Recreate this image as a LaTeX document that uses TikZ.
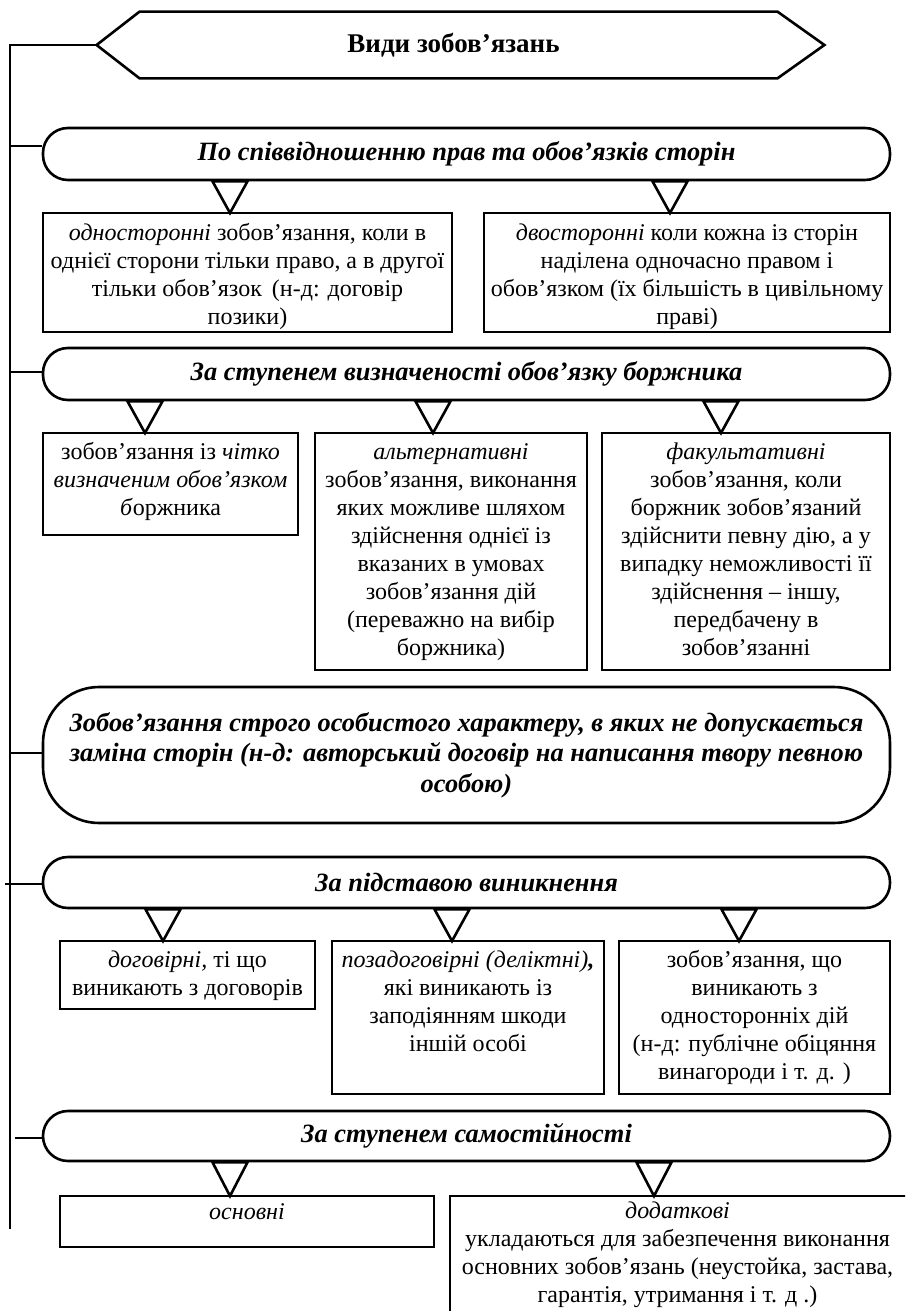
\documentclass[tikz,border=0pt]{standalone}
\usepackage{fontspec}
\setmainfont{Liberation Serif}
\usetikzlibrary{fit,calc}
\newcommand\bodyf{\fontsize{12}{14}\selectfont}
\newcommand\headf{\fontsize{13.2}{15.25}\selectfont\bfseries\itshape}
\newcommand\titlef{\fontsize{13.5}{15}\selectfont\bfseries}
\begin{document}
\begin{tikzpicture}[x=0.5pt,y=-0.5pt,
  ln/.style={line width=1.3pt},
  rbox/.style={draw, ln, rounded corners=12.5pt, inner sep=0pt, font=\headf, align=center, fill=white, minimum width=423.5pt},
  sqbox/.style={draw, ln, inner sep=0pt, fill=white},
  txt/.style={inner sep=0pt, anchor=north, align=center, font=\bodyf},
  tri/.style={draw, ln, fill=white, line join=miter}]
\path[use as bounding box] (0,0) rectangle (905,1311);
\clip (0,0) rectangle (905,1311);
\fill[white] (0,0) rectangle (905,1311);

% title hexagon
\node[inner sep=0pt, font=\titlef, minimum width=363.5pt, minimum height=33pt] (title) at (460.5,45) {\hspace*{-7pt}Види зобов’язань};
\draw[ln, line join=miter] (title.west) -- ($(title.north west)+(43,0)$) -- ($(title.north east)+(-47,0)$) -- (title.east) -- ($(title.south east)+(-47,0)$) -- ($(title.south west)+(43,0)$) -- cycle;

% main spine
\coordinate (m0) at (10,45);
\coordinate (mend) at (10,1229);
\draw[ln] (title.west) -- (m0) -- (mend);
\coordinate (m1) at (10,146);
\coordinate (m2) at (10,372);
\coordinate (m3) at (10,753);
\coordinate (m4) at (5,884);
\coordinate (m5) at (15,1138);

% category boxes
\node[rbox, minimum height=26pt] (r1) at (466.5,154) {По співвідношенню прав та обов’язків сторін};
\node[rbox, minimum height=26pt] (r2) at (466.5,374) {За ступенем визначеності обов’язку боржника};
\node[rbox, rounded corners=28pt, minimum height=68pt] (r3) at (466.5,755) {Зобов’язання строго особистого характеру, в яких не допускається\\заміна сторін (н-д: авторський договір на написання твору певною\\особою)};
\node[rbox, minimum height=25.5pt] (r4) at (466.5,882.5) {За підставою виникнення};
\node[rbox, minimum height=25pt] (r5) at (466.5,1136) {За ступенем самостійності};

\foreach \m/\r in {m1/r1, m2/r2, m3/r3, m4/r4, m5/r5}
  \draw[ln] (\m) -- (\m -| \r.west);

% leaf boxes
\node[sqbox, fit={(43,213)(452,332)}] (b1a) {};
\node[sqbox, fit={(484,213)(890,332)}] (b1b) {};
\node[sqbox, fit={(43,433)(298,535)}] (b2a) {};
\node[sqbox, fit={(315,433)(587,670)}] (b2b) {};
\node[sqbox, fit={(602,433)(890,670)}] (b2c) {};
\node[sqbox, fit={(60,941)(315,1009)}] (b4a) {};
\node[sqbox, fit={(332,941)(604,1094)}] (b4b) {};
\node[sqbox, fit={(619,941)(890,1094)}] (b4c) {};
\node[sqbox, fit={(60,1196)(434,1247)}] (b5a) {};
\node[sqbox, fit={(450,1196)(915,1340)}] (b5b) {};

\node[txt] (t1a) at ($(b1a.north)+(0,9)$) {\strut\textit{односторонні} зобов’язання, коли в\\однієї сторони тільки право, а в другої\\тільки обов’язок \,(н-д: договір\\позики)};
\node[txt] (t1b) at ($(b1b.north)+(0,9)$) {\strut\textit{двосторонні} коли кожна із сторін\\наділена одночасно правом і\\обов’язком (їх більшість в цивільному\\праві)};
\node[txt] (t2a) at ($(b2a.north)+(0,8)$) {\strut зобов’язання із \textit{чітко}\\\textit{визначеним обов’язком}\\\textit{б}оржника};
\node[txt] (t2b) at ($(b2b.north)+(0,8)$) {\strut\textit{альтернативні}\\зобов’язання, виконання\\яких можливе шляхом\\здійснення однієї із\\вказаних в умовах\\зобов’язання дій\\(переважно на вибір\\боржника)};
\node[txt] (t2c) at ($(b2c.north)+(0,8)$) {\strut\textit{факультативні}\\зобов’язання, коли\\боржник зобов’язаний\\здійснити певну дію, а у\\випадку неможливості її\\здійснення – іншу,\\передбачену в\\зобов’язанні};
\node[txt] (t4a) at ($(b4a.north)+(0,8)$) {\strut\textit{договірні,} ті що\\виникають з договорів};
\node[txt] (t4b) at ($(b4b.north)+(0,8)$) {\strut\textit{позадоговірні (деліктні)}\textbf{\textit{,}}\\які виникають із\\заподіянням шкоди\\іншій особі};
\node[txt] (t4c) at ($(b4c.north)+(0,8)$) {\strut зобов’язання, що\\виникають з\\односторонніх дій\\(н-д: публічне обіцяння\\винагороди і т. д. )};
\node[txt] (t5a) at ($(b5a.north)+(0,5)$) {\strut\textit{основні}};
\node[txt] (t5b) at ($(b5b.north)+(-5,4)$) {\strut\textit{додаткові}\\укладаються для забезпечення виконання\\основних зобов’язань (неустойка, застава,\\гарантія, утримання і т. д .)};

% triangles
\coordinate (a11) at (230,213);
\coordinate (a12) at (670,213);
\coordinate (a21) at (145,433);
\coordinate (a22) at (433,433);
\coordinate (a23) at (721,433);
\coordinate (a41) at (163,941);
\coordinate (a42) at (452,941);
\coordinate (a43) at (739,941);
\coordinate (a51) at (230,1196);
\coordinate (a52) at (654,1196);
\foreach \a/\p in {a11/r1, a12/r1, a21/r2, a22/r2, a23/r2, a41/r4, a42/r4, a43/r4, a51/r5, a52/r5}
  \draw[tri] (\a) -- ($(\a |- \p.south)+(-17.5,0)$) -- ($(\a |- \p.south)+(17.5,0)$) -- cycle;
\end{tikzpicture}
\end{document}
